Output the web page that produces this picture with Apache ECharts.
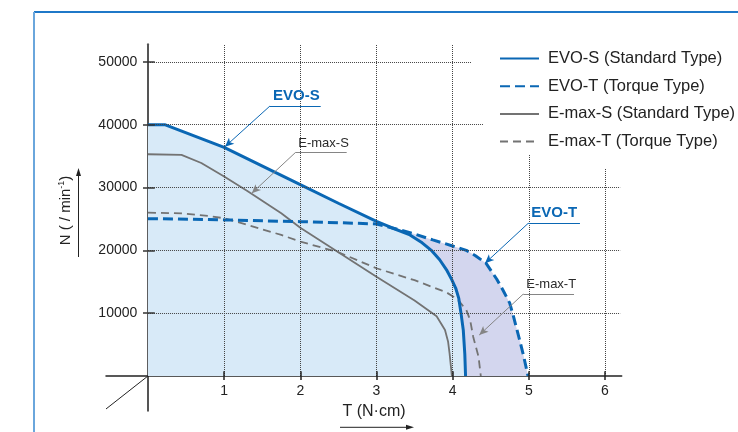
<!DOCTYPE html>
<html><head><meta charset="utf-8">
<script src="https://cdn.jsdelivr.net/npm/echarts@6/dist/echarts.min.js"></script>
<style>html,body{margin:0;padding:0;background:#fff}#c{width:738px;height:432px}</style>
</head><body><div id="c"></div>
<script>
// ---- data ----
const xTicks = [1, 2, 3, 4, 5, 6];
const yTicks = [10000, 20000, 30000, 40000, 50000];
const legendNames = ['EVO-S (Standard Type)', 'EVO-T (Torque Type)', 'E-max-S (Standard Type)', 'E-max-T (Torque Type)'];
const evoS = [[0,40000],[0.22,40000],[1,36400],[2,30450],[2.5,27500],[3,24600],[3.2,23600],[3.44,22450],[3.6,21200],[3.72,20000],[3.83,18500],[3.92,16900],[3.99,15300],[4.04,14000],[4.08,12400],[4.11,10000],[4.14,7300],[4.16,3500],[4.17,0]];
const evoT = [[0,25050],[1,24850],[2,24570],[2.5,24400],[3,24200],[3.31,23250],[3.5,22600],[3.74,21660],[4,20700],[4.18,20000],[4.3,19150],[4.44,17940],[4.58,15400],[4.66,13690],[4.75,11600],[4.8,9440],[4.88,5730],[4.93,3300],[4.99,0]];
const emaxS = [[0,35300],[0.44,35200],[0.7,33900],[1,31740],[1.31,29400],[1.75,25900],[2,23600],[2.5,19700],[3,15800],[3.5,12000],[3.79,9500],[3.9,7320],[3.94,5500],[3.96,3610],[3.99,0]];
const emaxT = [[0,26000],[0.44,25900],[0.79,25480],[1,25110],[1.31,24040],[1.75,22450],[2,21400],[2.5,19700],[3,17150],[3.5,15250],[3.92,13300],[4.01,12630],[4.09,11830],[4.18,10510],[4.23,8920],[4.27,6260],[4.34,3080],[4.37,0]];

// ---- styles ----
const FONT = '"Liberation Sans", Arial, Helvetica, sans-serif';
const BLUE = '#0a67b4', GRAY = '#737373', INK = '#222';
const chart = echarts.init(document.getElementById('c'));

function seg(a, b, lineStyle) {
  return [{coord: a, symbol: 'none'}, {coord: b, symbol: 'none', lineStyle: lineStyle}];
}
const dotted = {type: 'dotted', color: '#444', width: 1};
const gridSegs = [
  [[0,10000],[6.2,10000]], [[0,20000],[6.2,20000]], [[0,30000],[6.2,30000]],
  [[0,40000],[4.4,40000]], [[0,50000],[4.25,50000]],
  [[1,0],[1,52800]], [[2,0],[2,52800]], [[3,0],[3,52800]], [[4,0],[4,52800]],
  [[5,0],[5,35200]], [[6,0],[6,33000]]
].map(s => seg(s[0], s[1], dotted));
gridSegs.push(seg([0,0],[-0.551,-5250], {type:'solid', color: INK, width: 1}));
// inner halves of the crossing tick marks
xTicks.forEach(t => gridSegs.push(seg([t,0],[t,750], {type:'solid', color: INK, width: 1.5})));
yTicks.forEach(t => gridSegs.push(seg([0,t],[0.09,t], {type:'solid', color: '#333', width: 1.5})));

function note(text, color, textColor, bold, start, endX, tip, size) {
  const ls = {type: 'solid', color: color, width: 1};
  return [
    [{coord: start, symbol: 'none'}, {coord: [endX, start[1]], symbol: 'none', lineStyle: ls,
      label: {show: true, position: 'insideStartTop', formatter: text, distance: 3, color: textColor,
              fontSize: size, fontWeight: bold ? 'bold' : 'normal', fontFamily: FONT}}],
    [{coord: start, symbol: 'none'}, {coord: tip, symbol: 'arrow', symbolSize: [6, 9], lineStyle: ls, itemStyle: {color: color}}]
  ];
}
const notes = [].concat(
  note('EVO-S', BLUE, BLUE, true, [1.602, 42980], 2.268, [1.011, 36500], 15),
  note('E-max-S', '#858585', '#2a2a2a', false, [1.934, 35550], 2.609, [1.362, 29080], 13),
  note('EVO-T', BLUE, BLUE, true, [4.993, 24310], 5.672, [4.425, 17940], 15),
  note('E-max-T', '#858585', '#2a2a2a', false, [4.928, 13050], 5.594, [4.35, 6530], 13)
);

const option = {
  animation: false,
  textStyle: {fontFamily: FONT},
  grid: {left: 106, right: 116.3, top: 44.3, bottom: 21.3, containLabel: false, outerBoundsMode: 'none'},
  legend: {
    data: legendNames, orient: 'vertical', left: 494, top: 45,
    itemWidth: 39, itemHeight: 14, itemGap: 10.7,
    itemStyle: {opacity: 0, color: 'transparent', borderWidth: 0},
    textStyle: {fontSize: 16.5, color: INK, fontFamily: FONT, padding: [0, 0, 0, 4]}
  },
  xAxis: {
    type: 'value', min: -0.551, max: 6.22,
    axisLine: {onZero: true, lineStyle: {color: INK, width: 1.5}},
    axisTick: {customValues: xTicks, length: 4, lineStyle: {color: INK, width: 1.5}},
    axisLabel: {customValues: xTicks, fontSize: 14, color: INK, margin: -27, fontFamily: FONT},
    splitLine: {show: false}
  },
  yAxis: {
    type: 'value', min: -5525, max: 52800,
    axisLine: {onZero: true, lineStyle: {color: '#555', width: 2}},
    axisTick: {customValues: yTicks, length: 5, lineStyle: {color: '#333', width: 1.5}},
    axisLabel: {customValues: yTicks, fontSize: 14, color: INK, margin: -31.3, fontFamily: FONT, formatter: v => String(v)},
    splitLine: {show: false}
  },
  series: [
    {type: 'line', data: evoT, symbol: 'none', silent: true, z: 1, lineStyle: {width: 0, opacity: 0}, areaStyle: {color: '#d3d6ee', opacity: 1}},
    {type: 'line', data: evoS, symbol: 'none', silent: true, z: 1, lineStyle: {width: 0, opacity: 0}, areaStyle: {color: '#d8eaf8', opacity: 1}},
    {type: 'line', data: [], z: 2, silent: true, markLine: {silent: true, symbol: ['none','none'], label: {show: false}, lineStyle: dotted, data: gridSegs}},
    {name: legendNames[2], type: 'line', data: emaxS, symbol: 'none', z: 3, lineStyle: {color: GRAY, width: 1.8}, itemStyle: {color: GRAY}},
    {name: legendNames[3], type: 'line', data: emaxT, symbol: 'none', z: 3, lineStyle: {color: GRAY, width: 1.8, type: [8, 5]}, itemStyle: {color: GRAY}},
    {name: legendNames[0], type: 'line', data: evoS, symbol: 'none', z: 4, lineStyle: {color: BLUE, width: 3}, itemStyle: {color: BLUE}},
    {name: legendNames[1], type: 'line', data: evoT, symbol: 'none', z: 4, lineStyle: {color: BLUE, width: 3, type: [10, 5]}, itemStyle: {color: BLUE}},
    {type: 'line', data: [], z: 5, silent: true, markLine: {silent: true, symbol: ['none','none'], label: {show: false}, data: notes}}
  ],
  graphic: [
    {type: 'line', shape: {x1: 34, y1: 12, x2: 738, y2: 12}, style: {stroke: '#1f78c8', lineWidth: 2}},
    {type: 'line', shape: {x1: 34, y1: 12, x2: 34, y2: 432}, style: {stroke: '#6aa6dc', lineWidth: 2}},
    {type: 'text', x: 66, y: 210.5, rotation: Math.PI / 2,
      style: {text: '{n|N ( / min}{s|-1}{n|)}', align: 'center', verticalAlign: 'middle',
        rich: {n: {fontSize: 15, fontFamily: FONT, fill: INK, lineHeight: 18}, s: {fontSize: 9, fontFamily: FONT, fill: INK, lineHeight: 10, verticalAlign: 'top'}}}},
    {type: 'line', shape: {x1: 78.5, y1: 257, x2: 78.5, y2: 175}, style: {stroke: INK, lineWidth: 1}},
    {type: 'polygon', shape: {points: [[78.5, 168], [76, 176], [81, 176]]}, style: {fill: INK}},
    {type: 'text', x: 374, y: 411.7, style: {text: 'T (N·cm)', fontSize: 16, fontFamily: FONT, fill: INK, align: 'center', verticalAlign: 'middle'}},
    {type: 'line', shape: {x1: 340, y1: 427.3, x2: 408, y2: 427.3}, style: {stroke: INK, lineWidth: 1}},
    {type: 'polygon', shape: {points: [[414, 427.3], [406, 424.8], [406, 429.8]]}, style: {fill: INK}}
  ]
};
chart.setOption(option);
</script></body></html>
